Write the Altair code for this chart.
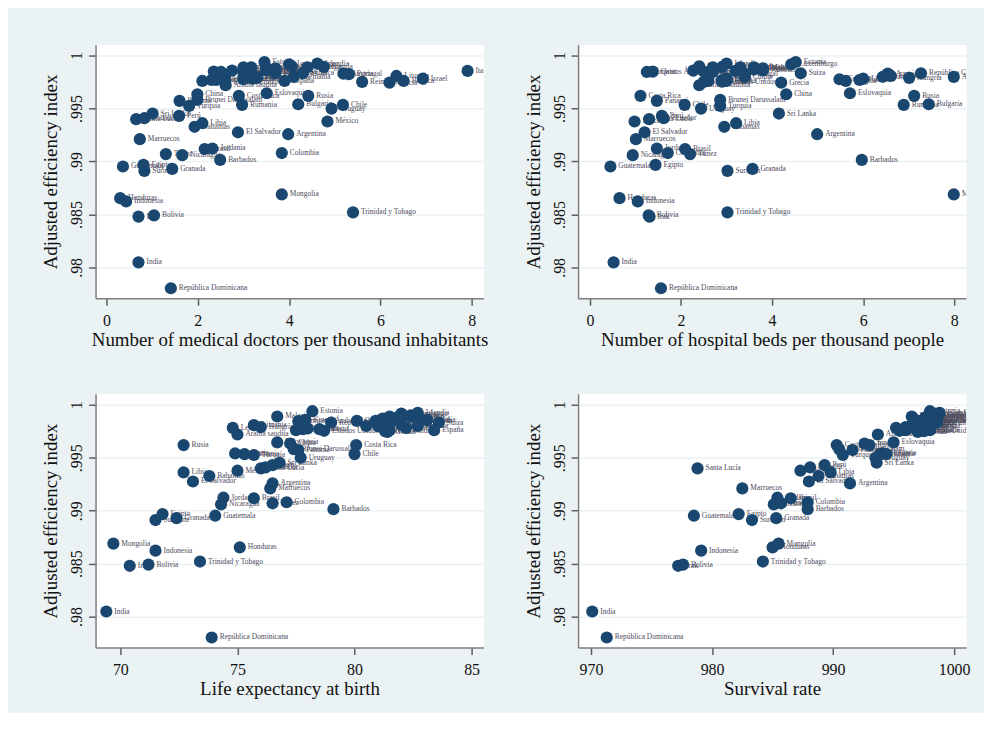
import altair as alt
import pandas as pd

countries = [
    "India", "República Dominicana", "Trinidad y Tobago", "Mongolia", "Bolivia", "Irak",
    "Honduras", "Indonesia", "Granada", "Surinam", "Egipto", "Guatemala", "Barbados",
    "Colombia", "Nicaragua", "Túnez", "Jordania", "Brasil", "Marruecos", "El Salvador",
    "Argentina", "Libia", "Bahamas", "México", "Santa Lucía", "Perú", "Sri Lanka", "Ecuador",
    "Turquía", "Brunei Darussalam", "Panamá", "China", "Costa Rica", "Rumania", "Eslovaquia",
    "Rusia", "Bulgaria", "Chile", "Uruguay",
    "Arabia saudita", "Letonia", "Hungría", "República Checa", "Estonia", "Italia", "Israel",
    "Alemania", "Austria", "Portugal", "Islandia", "Irlanda", "Noruega", "Suiza", "Luxemburgo",
    "Grecia", "Lituania", "Bélgica", "Reino Unido", "España", "Francia", "Canadá",
    "Estados Unidos", "Australia", "Nueva Zelanda", "Dinamarca", "Finlandia", "Suecia",
    "Países Bajos", "Eslovenia", "Chipre", "Malta", "Croacia", "Polonia",
    "Emiratos Árabes Unidos", "Qatar", "Kuwait", "Omán", "Malasia", "Líbano",
]

efficiency = [
    0.98048, 0.97803, 0.98520, 0.98689, 0.98491, 0.98480,
    0.98654, 0.98623, 0.98930, 0.98912, 0.98968, 0.98953, 0.99015,
    0.99080, 0.99060, 0.99070, 0.99123, 0.99118, 0.99211, 0.99276,
    0.99258, 0.99362, 0.99328, 0.99378, 0.99400, 0.99431, 0.99453, 0.99409,
    0.99526, 0.99582, 0.99573, 0.99635, 0.99620, 0.99535, 0.99645,
    0.99620, 0.99541, 0.99535, 0.99500,
    0.99720, 0.99782, 0.99790, 0.99833, 0.99940, 0.99856, 0.99783,
    0.99799, 0.99830, 0.99825, 0.99925, 0.99893, 0.99890, 0.99833, 0.99918,
    0.99745, 0.99808, 0.99761, 0.99752, 0.99761, 0.99800, 0.99810,
    0.99755, 0.99860, 0.99845, 0.99850, 0.99890, 0.99900,
    0.99880, 0.99870, 0.99800, 0.99880, 0.99777, 0.99770,
    0.99846, 0.99849, 0.99858, 0.99761, 0.99890, 0.99770,
]

doctors = [
    0.70, 1.41, 5.40, 3.84, 1.04, 0.70,
    0.30, 0.43, 1.44, 0.83, 0.81, 0.36, 2.49,
    3.84, 1.66, 1.30, 2.32, 2.15, 0.73, 2.88,
    3.98, 2.10, 1.93, 4.84, 0.65, 1.59, 1.01, 0.83,
    1.81, 1.99, 1.60, 1.99, 2.90, 2.97, 3.51,
    4.42, 4.20, 5.18, 4.93,
    2.61, 3.20, 3.30, 3.70, 3.46, 7.91, 6.93,
    4.10, 5.19, 5.31, 4.62, 4.76, 4.40, 4.30, 4.00,
    6.20, 6.35, 6.51, 5.60, 3.90, 3.30, 2.60,
    2.60, 3.50, 3.00, 3.70, 3.00, 4.06,
    3.50, 3.10, 3.00, 3.70, 3.00, 2.40,
    2.51, 2.35, 2.75, 2.10, 3.17, 2.30,
]

beds = [
    0.52, 1.56, 3.02, 7.99, 1.29, 1.31,
    0.65, 1.05, 3.57, 3.02, 1.44, 0.45, 5.97,
    1.71, 0.94, 2.20, 1.47, 2.09, 1.01, 1.20,
    4.99, 3.21, 2.95, 0.98, 1.30, 1.58, 4.15, 1.62,
    2.86, 2.86, 1.47, 4.31, 1.11, 6.89, 5.71,
    7.12, 7.44, 2.08, 2.44,
    2.40, 6.00, 7.01, 7.27, 4.52, 3.20, 3.00,
    7.99, 6.54, 3.40, 3.00, 2.90, 3.60, 4.63, 4.42,
    4.20, 6.61, 5.62, 2.50, 3.00, 6.43, 2.60,
    2.90, 3.80, 2.70, 2.50, 3.30, 2.40,
    3.30, 3.60, 3.40, 3.80, 5.48, 5.92,
    1.25, 1.38, 2.27, 2.60, 2.70, 2.90,
]

life_expectancy = [
    69.4, 73.9, 73.4, 69.7, 71.2, 70.4,
    75.1, 71.5, 72.4, 71.5, 71.8, 74.05, 79.1,
    77.1, 74.3, 76.5, 74.4, 75.7, 76.4, 73.1,
    76.5, 72.7, 73.8, 75.0, 76.0, 76.5, 76.8, 76.2,
    75.7, 77.4, 77.6, 77.25, 80.07, 75.3, 76.7,
    72.7, 74.9, 80.0, 77.7,
    75.0, 74.8, 76.0, 79.0, 78.2, 83.1, 82.2,
    81.0, 81.5, 81.3, 82.7, 82.0, 82.4, 83.6, 82.0,
    81.4, 75.7, 81.5, 81.3, 83.4, 82.7, 82.0,
    78.7, 82.8, 81.9, 80.9, 81.5, 82.4,
    81.8, 81.2, 80.5, 82.0, 78.0, 77.8,
    77.6, 80.1, 77.9, 77.5, 76.7, 78.5,
]

survival = [
    970.1, 971.3, 984.2, 985.5, 977.6, 977.2,
    985.0, 979.1, 985.3, 983.3, 982.2, 978.5, 987.9,
    987.9, 985.1, 985.7, 985.4, 986.5, 982.5, 988.0,
    991.4, 989.8, 988.8, 987.3, 978.8, 989.3, 993.6, 988.1,
    990.8, 990.5, 991.6, 992.6, 990.3, 993.9, 995.0,
    993.0, 994.1, 994.4, 993.5,
    993.7, 995.2, 996.0, 997.0, 998.0, 998.2, 997.5,
    997.2, 997.6, 996.8, 998.8, 998.3, 998.0, 998.6, 998.4,
    997.0, 996.5, 997.3, 997.5, 998.0, 998.0, 997.5,
    995.5, 998.5, 998.0, 997.5, 998.5, 998.7,
    998.1, 998.2, 997.0, 997.6, 996.2, 996.0,
    997.0, 997.3, 996.8, 996.0, 996.5, 996.0,
]

y_ticks = [0.98, 0.985, 0.99, 0.995, 1.0]

df = pd.DataFrame({
    "country": countries,
    "eff": efficiency,
    "doctors": doctors,
    "beds": beds,
    "life": life_expectancy,
    "survival": survival,
})

BG = "#eaf2f3"
NAVY = "#1a476f"
FONT = "Liberation Serif"

y_scale = alt.Scale(domain=[0.97708, 1.00104], nice=False, zero=False)
y_label_expr = "datum.value == 1 ? '1' : replace(format(datum.value, '.3~f'), '0.', '.')"


def panel(field, title, domain, ticks):
    xs = alt.Scale(domain=domain, nice=False, zero=False)
    x = alt.X(f"{field}:Q", title=title, scale=xs, axis=alt.Axis(values=ticks, format="d"))
    y = alt.Y("eff:Q", title="Adjusted efficiency index", scale=y_scale,
              axis=alt.Axis(values=y_ticks, labelExpr=y_label_expr))
    base = alt.Chart(df)
    txt = base.mark_text(align="left", baseline="middle", dx=8, fontSize=7.5,
                         font=FONT, color="#4d4a5c", clip=True).encode(
        x=x, y=y, text="country:N")
    pts = base.mark_circle(size=150, color=NAVY, opacity=1).encode(x=x, y=y)
    return alt.layer(txt, pts).properties(width=390, height=255)


p1 = panel("doctors", "Number of medical doctors per thousand inhabitants", [-0.24, 8.26], [0, 2, 4, 6, 8])
p2 = panel("beds", "Number of hospital beds per thousand people", [-0.26, 8.26], [0, 2, 4, 6, 8])
p3 = panel("life", "Life expectancy at birth", [68.94, 85.51], [70, 75, 80, 85])
p4 = panel("survival", "Survival rate", [968.93, 1000.99], [970, 980, 990, 1000])

chart = alt.concat(
    p1, p2, p3, p4, columns=2, spacing={"row": 96, "column": 95}, bounds="flush"
).properties(
    padding={"left": 33, "top": 34, "right": 13, "bottom": 12}
).configure(
    background=BG, font=FONT
).configure_view(
    fill="white", stroke="transparent"
).configure_axis(
    domainColor="#7f7f7f", domainWidth=1.5, tickColor="#5f5f5f", tickWidth=1.5,
    tickSize=7, labelFont=FONT, titleFont=FONT, labelFontSize=16, titleFontSize=19,
    labelColor="#111111", titleColor="#111111", titleFontWeight="normal",
    labelFlush=False
).configure_axisY(
    grid=True, gridColor=BG, gridWidth=1.5, labelAngle=-90, labelAlign="center",
    labelBaseline="bottom", labelPadding=4, minExtent=35, maxExtent=35, titlePadding=0
).configure_axisX(
    grid=False, labelPadding=7, minExtent=30, maxExtent=30, titlePadding=2
)

chart.save("out.html", embed_options={"renderer": "svg", "actions": False})
